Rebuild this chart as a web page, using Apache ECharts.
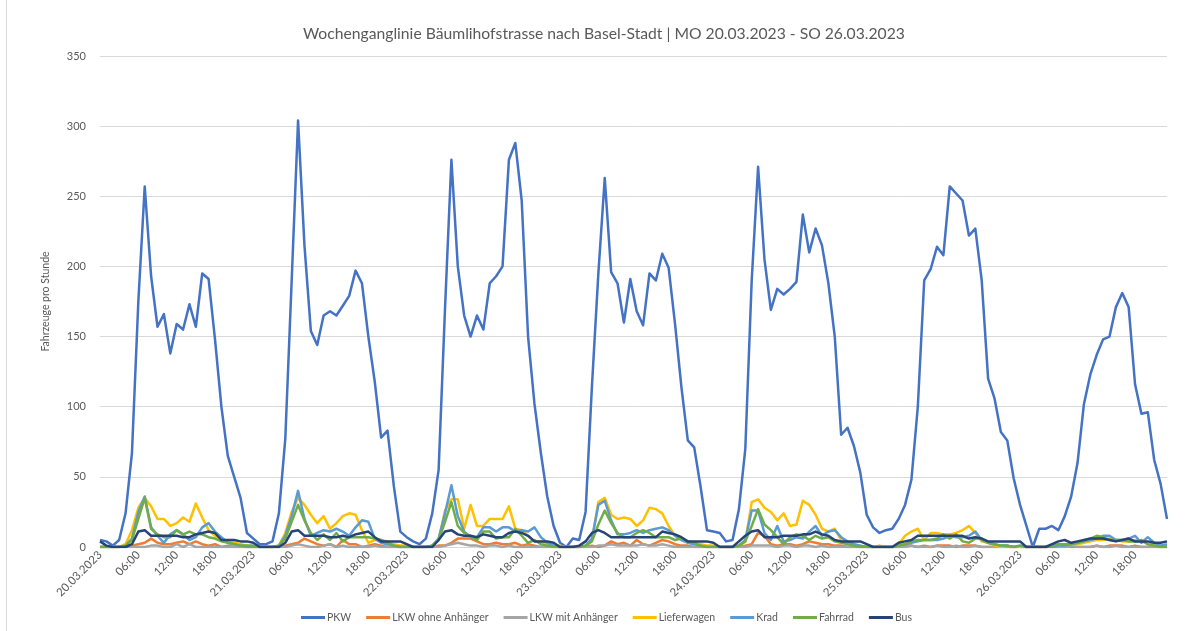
<!DOCTYPE html>
<html>
<head>
<meta charset="utf-8">
<script src="https://cdn.jsdelivr.net/npm/echarts@6/dist/echarts.min.js"></script>
<style>
  html, body { margin: 0; padding: 0; background: #fff; }
  #wrap { position: relative; width: 1195px; height: 631px; }
  #chart { position: absolute; left: 0; top: 0; width: 1195px; height: 631px; }
  #frame { position: absolute; left: 6px; top: -1px; width: 1200px; height: 640px; border-left: 1px solid #d9d9d9; pointer-events: none; }
</style>
</head>
<body>
<div id="wrap"><div id="chart"></div><div id="frame"></div></div>
<script>
// Tick labels
const dayLabels = ["20.03.2023","21.03.2023","22.03.2023","23.03.2023","24.03.2023","25.03.2023","26.03.2023"];
const hourLabels = ["00:00","01:00","02:00","03:00","04:00","05:00","06:00","07:00","08:00","09:00","10:00","11:00",
                    "12:00","13:00","14:00","15:00","16:00","17:00","18:00","19:00","20:00","21:00","22:00","23:00"];
const yTicks = [0, 50, 100, 150, 200, 250, 300, 350];

// Series values, hourly, MO 20.03. 00:00 .. SO 26.03. 23:00
const pkw = [
  5,4,1,5,24,67,175,257,193,157,166,138,159,155,173,157,195,191,148,100,65,50,35,10,
  6,2,2,4,24,77,190,304,215,154,144,165,168,165,172,179,197,188,150,118,78,83,43,11,
  7,4,2,6,24,55,170,276,200,165,150,165,155,188,193,200,276,288,247,150,102,67,36,15,
  3,0,6,5,25,115,195,263,196,188,160,191,168,158,195,190,209,199,159,114,76,71,43,12,
  11,10,4,5,27,70,190,271,205,169,184,180,184,189,237,210,227,215,188,150,80,85,72,53,
  23,14,10,12,13,20,30,48,100,190,198,214,208,257,252,247,222,227,190,120,106,82,76,49,
  30,15,0,13,13,15,12,22,36,60,102,123,137,148,150,171,181,171,116,95,96,62,45,20
];
const lkwOhne = [
  0,0,0,0,1,1,2,3,6,3,2,2,3,4,2,4,2,1,2,0,1,0,0,0,
  0,0,0,0,0,1,2,3,6,4,2,1,2,0,5,2,2,0,1,2,1,0,0,0,
  0,0,0,0,0,1,1,3,6,6,6,4,2,2,3,2,2,3,1,2,1,0,0,0,
  0,0,0,0,0,1,0,1,4,2,3,1,5,2,1,3,5,4,2,1,1,0,0,0,
  0,0,0,0,0,1,2,10,8,2,1,2,2,1,2,4,3,2,2,1,1,0,0,0,
  0,0,0,0,0,0,1,1,0,1,0,1,1,1,0,1,1,1,0,0,0,0,0,0,
  0,0,0,0,0,0,0,1,0,0,0,0,1,0,1,1,1,0,1,0,0,0,0,0
];
const lkwMit = [
  0,0,0,0,0,0,0,0,1,1,0,0,2,0,2,0,0,0,0,0,0,0,0,0,
  0,0,0,0,0,0,1,2,1,0,0,1,2,0,1,0,0,0,0,1,0,0,0,0,
  0,0,0,0,0,0,1,2,3,2,1,1,0,1,1,0,1,0,0,0,0,0,0,0,
  0,0,0,0,0,0,1,1,2,1,1,1,1,2,1,1,2,1,0,0,0,0,0,0,
  0,0,0,0,0,0,1,1,1,1,0,1,1,0,1,1,0,1,0,0,0,0,0,0,
  0,0,0,0,0,0,0,1,0,0,0,1,0,0,1,0,0,1,0,0,0,0,0,0,
  0,0,0,0,0,0,0,0,1,0,0,0,1,0,0,1,0,0,0,0,0,0,0,0
];
const lieferwagen = [
  0,0,0,0,2,12,28,35,29,20,20,15,17,21,18,31,21,12,8,6,4,3,2,1,
  0,0,0,0,1,10,25,35,30,23,17,22,13,17,22,24,23,12,3,5,5,4,2,1,
  1,0,0,0,1,5,26,34,34,13,30,15,15,20,20,20,29,13,12,8,4,4,2,1,
  1,0,0,0,1,5,32,35,23,20,21,20,15,19,28,27,24,15,8,5,4,3,2,1,
  1,0,0,0,1,4,32,34,28,25,19,24,15,16,33,30,23,13,11,13,5,3,2,1,
  0,0,1,0,0,2,8,11,13,5,10,10,9,9,10,12,15,10,4,3,1,0,1,0,
  0,0,0,0,0,1,1,2,2,2,3,4,5,5,6,5,4,4,5,4,2,2,1,1
];
const krad = [
  0,0,0,0,1,6,25,36,14,8,3,9,12,9,5,7,14,17,11,7,3,2,1,0,
  0,0,0,0,1,8,22,40,20,8,10,12,11,13,11,8,14,19,18,6,3,2,1,0,
  0,0,0,0,1,6,24,44,22,11,7,7,14,14,11,14,14,11,12,11,14,7,3,1,
  0,0,0,0,1,6,30,33,19,9,9,10,12,10,12,13,14,12,8,5,3,2,1,0,
  0,0,0,0,1,5,26,26,10,5,15,4,5,7,6,11,15,8,11,12,7,4,2,1,
  0,0,0,0,0,1,2,3,4,5,5,5,6,8,7,7,8,11,5,3,2,1,1,0,
  1,0,0,0,0,0,1,1,2,3,4,5,6,8,8,5,5,6,8,3,7,3,1,2
];
const fahrrad = [
  0,0,0,0,1,5,20,35,13,9,7,7,12,9,11,9,9,7,6,4,3,2,1,1,
  1,0,0,0,1,6,18,30,19,10,5,9,5,10,4,7,7,7,7,6,5,3,1,0,
  0,0,0,0,1,5,18,32,15,10,8,5,11,11,6,7,7,13,8,3,5,2,1,0,
  0,0,0,0,1,4,16,26,17,10,7,7,10,12,10,7,7,7,5,6,4,3,1,0,
  0,0,0,0,1,4,15,27,16,12,7,2,7,9,8,5,8,6,7,4,3,2,1,0,
  0,0,0,0,0,1,2,4,5,5,5,6,9,6,9,4,3,6,6,3,2,1,1,0,
  1,0,0,0,0,1,2,2,2,3,4,6,8,7,5,5,5,4,4,5,2,1,0,0
];
const bus = [
  4,1,0,0,0,2,11,12,8,8,8,8,8,7,7,9,10,11,10,5,5,5,4,4,
  3,0,0,0,0,3,11,12,8,8,8,8,7,7,8,7,9,10,11,7,4,4,4,4,
  2,0,0,0,0,5,11,12,9,8,8,7,9,8,7,7,10,11,10,8,4,4,4,3,
  0,0,0,1,4,10,12,10,7,7,7,7,7,7,7,7,11,10,9,7,4,4,4,4,
  3,0,0,0,4,8,11,12,7,7,7,8,8,8,9,9,11,9,8,5,4,4,4,4,
  2,0,0,0,0,3,4,5,8,8,8,8,8,8,8,8,6,7,6,4,4,4,4,4,
  4,0,0,0,0,2,4,5,3,4,5,6,6,6,5,4,5,6,4,4,4,3,3,4
];

const seriesNames = ["PKW","LKW ohne Anhänger","LKW mit Anhänger","Lieferwagen","Krad","Fahrrad","Bus"];
const seriesData = [pkw, lkwOhne, lkwMit, lieferwagen, krad, fahrrad, bus];
const seriesColors = ["#4472C4","#ED7D31","#A5A5A5","#FFC000","#5B9BD5","#70AD47","#264478"];

const categories = [];
dayLabels.forEach(d => hourLabels.forEach((h, i) => categories.push(i === 0 ? d : h)));

const font = "Lato, 'Liberation Sans', sans-serif";
const chart = echarts.init(document.getElementById('chart'), null, {renderer: 'canvas'});
chart.setOption({
  animation: false,
  backgroundColor: '#ffffff',
  textStyle: { fontFamily: font },
  title: {
    text: 'Wochenganglinie Bäumlihofstrasse nach Basel-Stadt | MO 20.03.2023 - SO 26.03.2023',
    left: 298, top: 21,
    textStyle: { fontFamily: font, fontSize: 15.7, fontWeight: 'normal', color: '#595959' }
  },
  grid: { left: 100, right: 28, top: 56, bottom: 84 },
  legend: {
    data: seriesNames,
    top: 607, left: 296,
    icon: 'rect',
    itemWidth: 24, itemHeight: 3, itemGap: 15,
    textStyle: { fontFamily: font, fontSize: 10.5, color: '#595959', padding: [0, 0, 0, -3] }
  },
  xAxis: {
    type: 'category',
    boundaryGap: false,
    data: categories,
    axisLine: { lineStyle: { color: '#d9d9d9', width: 1 } },
    axisTick: { show: false },
    axisLabel: { interval: 5, rotate: 45, fontSize: 11.5, color: '#595959', margin: 6, fontFamily: font },
    splitLine: { show: false }
  },
  yAxis: {
    type: 'value',
    min: yTicks[0], max: yTicks[yTicks.length - 1], interval: 50,
    name: 'Fahrzeuge pro Stunde',
    nameLocation: 'middle', nameGap: 49, nameRotate: 90,
    nameTextStyle: { fontSize: 10.5, color: '#595959', fontFamily: font },
    axisLine: { show: false },
    axisTick: { show: false },
    axisLabel: { fontSize: 11, color: '#595959', margin: 14, fontFamily: font },
    splitLine: { lineStyle: { color: '#d9d9d9', width: 1 } }
  },
  series: seriesNames.map((n, i) => ({
    name: n,
    type: 'line',
    data: seriesData[i],
    symbol: 'none',
    showSymbol: false,
    color: seriesColors[i],
    lineStyle: { width: 2.5, color: seriesColors[i], join: 'round' }
  }))
});
</script>
</body>
</html>
